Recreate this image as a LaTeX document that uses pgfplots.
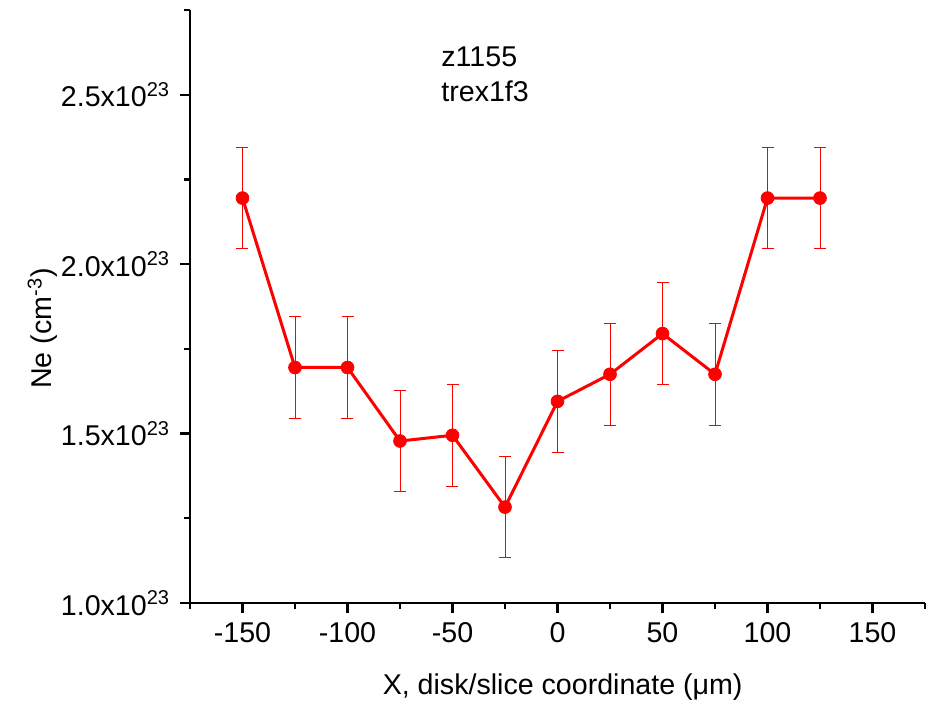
\documentclass[border=0pt]{standalone}
\usepackage{fontspec}
\setmainfont{Liberation Sans}
\usepackage{pgfplots}
\pgfplotsset{compat=1.18}
\newcommand{\chartfont}{\fontsize{14.3}{17}\selectfont}
\begin{document}
\chartfont
\begin{tikzpicture}
\begin{axis}[
    name=main,
    scale only axis,
    width=367.5pt, height=296.5pt,
    at={(0,0)}, anchor=south west,
    xmin=-175, xmax=175,
    ymin=1.0, ymax=2.75,
    axis x line*=bottom,
    axis y line*=left,
    axis line style={line width=1.2pt},
    tick align=outside,
    major tick length=5pt,
    minor tick length=3pt,
    every tick/.style={black, line width=1.2pt},
    xtick={-150,-100,...,150},
    minor xtick={-175,-125,...,175},
    ytick={1.0,1.5,2.0,2.5},
    minor ytick={1.25,1.75,2.25,2.75},
    yticklabels={1.0x10\textsuperscript{23},1.5x10\textsuperscript{23},2.0x10\textsuperscript{23},2.5x10\textsuperscript{23}},
    /pgf/number format/assume math mode=true,
    xticklabel style={/pgf/number format/.cd,fixed},
    ticklabel style={font=\chartfont},
    label style={font=\chartfont},
    xlabel={X, disk/slice coordinate (μm)},
    ylabel={Ne (cm\textsuperscript{-3})},
    xlabel style={at={(axis description cs:0.507,-0.155)}, anchor=base},
    ylabel style={at={(axis description cs:-0.1878,0.463)}, anchor=base},
    clip=false,
]
\addplot[red, line width=1.5pt, mark=*, mark size=3.2pt,
    mark options={solid, fill=red, draw=red, line width=0.4pt},
    error bars/.cd, y dir=both, y explicit,
    error bar style={red, line width=0.5pt},
    error mark options={rotate=90, mark size=3pt, line width=0.5pt, red}]
  table[x=x, y=y, y error=e] {
x y e
-150 2.195 0.15
-125 1.695 0.15
-100 1.695 0.15
-75 1.478 0.15
-50 1.495 0.15
-25 1.283 0.15
0 1.595 0.15
25 1.675 0.15
50 1.795 0.15
75 1.675 0.15
100 2.195 0.15
125 2.195 0.15
};
\node[anchor=base west, inner sep=0pt] at (rel axis cs:0.3415,0.904) {z1155};
\node[anchor=base west, inner sep=0pt] at (rel axis cs:0.3415,0.845) {trex1f3};
\end{axis}
\pgfresetboundingbox
\path (-95pt,-48.5pt) rectangle (372.5pt,301.5pt);
\end{tikzpicture}
\end{document}
